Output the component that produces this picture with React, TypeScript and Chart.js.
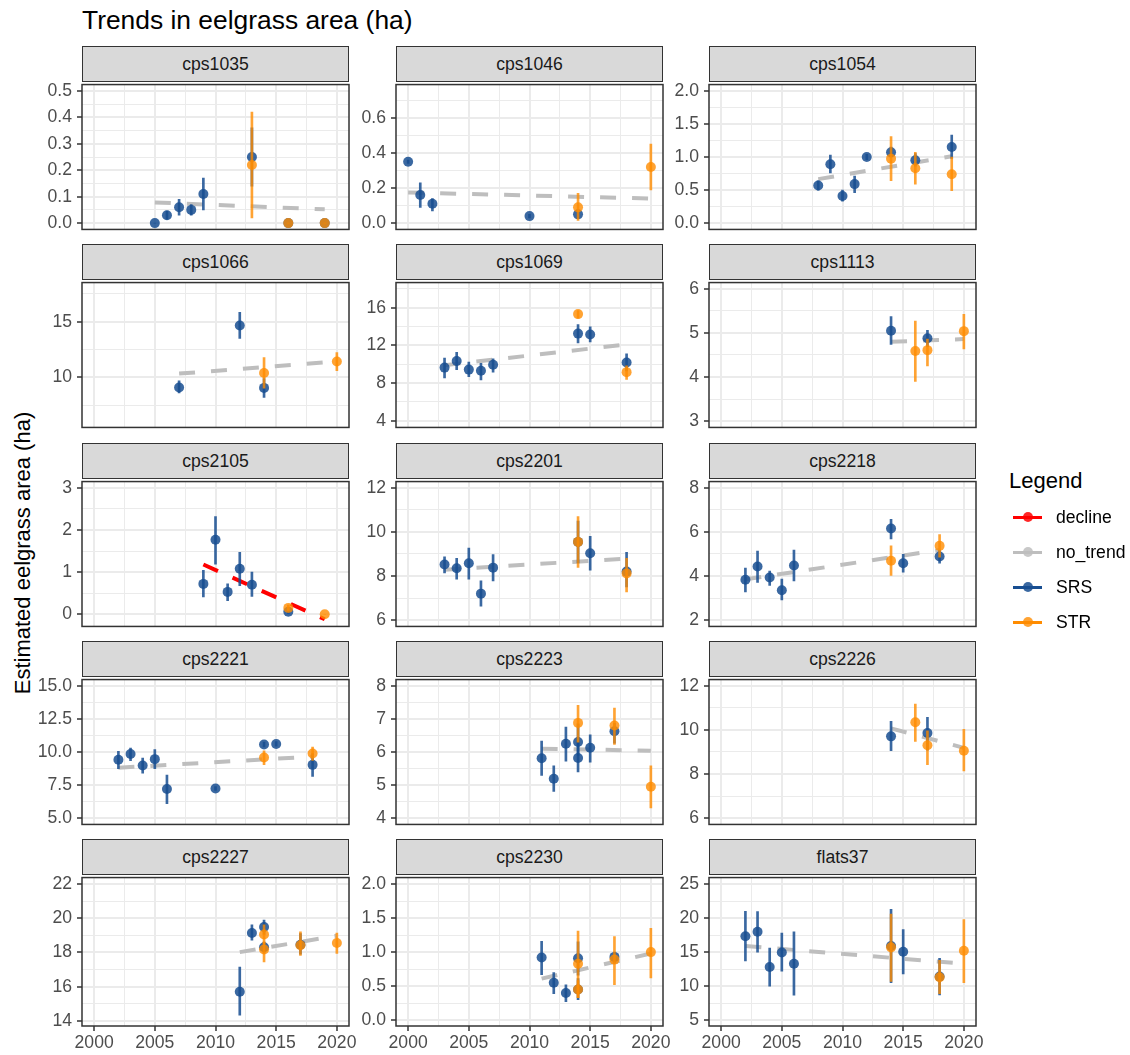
import React, { useEffect, useRef } from "react";
import { Chart, registerables } from "chart.js";

Chart.register(...registerables);

const FONT = "'Liberation Sans', Arial, Helvetica, sans-serif";
Chart.defaults.font.family = FONT;

// ---------- categories / labels ----------
const categories = [
  "cps1035", "cps1046", "cps1054",
  "cps1066", "cps1069", "cps1113",
  "cps2105", "cps2201", "cps2218",
  "cps2221", "cps2223", "cps2226",
  "cps2227", "cps2230", "flats37",
];
const xTickLabels = ["2000", "2005", "2010", "2015", "2020"];
const xLimits = [1999, 2021];
const legendLabels = ["decline", "no_trend", "SRS", "STR"];

// ---------- data: [year, estimate, lower, upper] ----------
const srs_cps1035 = [[2005, 0.0, 0.0, 0.0], [2006, 0.03, 0.015, 0.045], [2007, 0.06, 0.03, 0.09], [2008, 0.05, 0.03, 0.07], [2009, 0.11, 0.05, 0.17], [2013, 0.25, 0.14, 0.36], [2016, 0.0, 0.0, 0.0], [2019, 0.0, 0.0, 0.0]];
const str_cps1035 = [[2013, 0.22, 0.02, 0.42], [2016, 0.0, 0.0, 0.0], [2019, 0.0, 0.0, 0.0]];
const trend_cps1035 = [[2005, 0.078], [2019, 0.052]];

const srs_cps1046 = [[2000, 0.35, 0.34, 0.36], [2001, 0.16, 0.09, 0.23], [2002, 0.11, 0.07, 0.14], [2010, 0.04, 0.03, 0.05], [2014, 0.05, 0.03, 0.07]];
const str_cps1046 = [[2014, 0.09, 0.015, 0.17], [2020, 0.32, 0.19, 0.45]];
const trend_cps1046 = [[2000, 0.175], [2020, 0.14]];

const srs_cps1054 = [[2008, 0.57, 0.5, 0.64], [2009, 0.89, 0.76, 1.03], [2010, 0.41, 0.33, 0.5], [2011, 0.59, 0.46, 0.71], [2012, 1.0, 0.96, 1.04], [2014, 1.07, 1.0, 1.15], [2016, 0.95, 0.86, 1.05], [2019, 1.15, 0.98, 1.33]];
const str_cps1054 = [[2014, 0.975, 0.64, 1.31], [2016, 0.83, 0.59, 1.07], [2019, 0.74, 0.49, 1.0]];
const trend_cps1054 = [[2008, 0.665], [2019, 1.01]];

const srs_cps1066 = [[2007, 9.09, 8.6, 9.7], [2012, 14.66, 13.5, 15.83], [2014, 9.06, 8.2, 9.89]];
const str_cps1066 = [[2014, 10.4, 9.03, 11.77], [2020, 11.43, 10.6, 12.23]];
const trend_cps1066 = [[2007, 10.34], [2020, 11.43]];

const srs_cps1069 = [[2003, 9.64, 8.56, 10.65], [2004, 10.34, 9.43, 11.26], [2005, 9.43, 8.69, 10.24], [2006, 9.3, 8.34, 10.1], [2007, 9.94, 9.16, 10.58], [2014, 13.25, 12.27, 14.2], [2015, 13.15, 12.37, 13.96], [2018, 10.18, 9.3, 11.1]];
const str_cps1069 = [[2014, 15.32, 14.9, 15.7], [2018, 9.16, 8.4, 9.84]];
const trend_cps1069 = [[2003, 9.9], [2018, 12.1]];

const srs_cps1113 = [[2014, 5.05, 4.74, 5.37], [2017, 4.88, 4.69, 5.06]];
const str_cps1113 = [[2016, 4.59, 3.9, 5.27], [2017, 4.61, 4.25, 4.86], [2020, 5.04, 4.64, 5.42]];
const trend_cps1113 = [[2014, 4.8], [2020, 4.86]];

const srs_cps2105 = [[2009, 0.72, 0.41, 1.04], [2010, 1.77, 1.19, 2.32], [2011, 0.53, 0.32, 0.72], [2012, 1.08, 0.68, 1.47], [2013, 0.7, 0.42, 1.0], [2016, 0.06, 0.02, 0.1]];
const str_cps2105 = [[2016, 0.15, 0.08, 0.22], [2019, 0.0, 0.0, 0.0]];
const trend_cps2105 = [[2009, 1.18], [2019, -0.12]];

const srs_cps2201 = [[2003, 8.52, 8.14, 8.87], [2004, 8.35, 7.86, 8.8], [2005, 8.58, 7.86, 9.27], [2006, 7.2, 6.63, 7.78], [2007, 8.38, 7.78, 8.97], [2014, 9.55, 8.6, 10.5], [2015, 9.03, 8.26, 9.8], [2018, 8.2, 7.5, 9.08]];
const str_cps2201 = [[2014, 9.55, 8.39, 10.7], [2018, 8.12, 7.28, 8.8]];
const trend_cps2201 = [[2003, 8.29], [2018, 8.79]];

const srs_cps2218 = [[2002, 3.83, 3.28, 4.36], [2003, 4.43, 3.71, 5.13], [2004, 3.93, 3.57, 4.22], [2005, 3.35, 2.92, 3.86], [2006, 4.48, 3.78, 5.18], [2014, 6.16, 5.69, 6.57], [2015, 4.58, 4.17, 4.98], [2018, 4.89, 4.58, 5.18]];
const str_cps2218 = [[2014, 4.69, 4.03, 5.37], [2018, 5.37, 4.86, 5.88]];
const trend_cps2218 = [[2002, 3.85], [2018, 5.18]];

const srs_cps2221 = [[2002, 9.42, 8.75, 10.07], [2003, 9.86, 9.35, 10.31], [2004, 8.99, 8.41, 9.55], [2005, 9.47, 8.75, 10.19], [2006, 7.21, 6.11, 8.27], [2010, 7.26, 7.1, 7.4], [2014, 10.58, 10.4, 10.75], [2015, 10.62, 10.45, 10.8], [2018, 9.04, 8.17, 9.9]];
const str_cps2221 = [[2014, 9.59, 9.06, 10.1], [2018, 9.9, 9.38, 10.38]];
const trend_cps2221 = [[2002, 8.82], [2018, 9.66]];

const srs_cps2223 = [[2011, 5.81, 5.29, 6.33], [2012, 5.19, 4.81, 5.58], [2013, 6.25, 5.72, 6.75], [2014, 6.3, 5.9, 6.85], [2014, 5.82, 5.4, 6.3], [2015, 6.13, 5.69, 6.52], [2017, 6.63, 6.27, 6.87]];
const str_cps2223 = [[2014, 6.88, 6.3, 7.41], [2017, 6.8, 6.23, 7.33], [2020, 4.95, 4.31, 5.58]];
const trend_cps2223 = [[2011, 6.1], [2020, 6.04]];

const srs_cps2226 = [[2014, 9.71, 9.06, 10.39], [2017, 9.86, 9.08, 10.58]];
const str_cps2226 = [[2016, 10.35, 9.48, 11.18], [2017, 9.31, 8.43, 9.96], [2020, 9.06, 8.14, 10.03]];
const trend_cps2226 = [[2014, 10.07], [2020, 9.19]];

const srs_cps2227 = [[2012, 15.7, 14.34, 17.14], [2013, 19.14, 18.72, 19.62], [2014, 19.49, 19.05, 19.9], [2014, 18.3, 18.0, 18.6], [2017, 18.45, 17.9, 19.1]];
const str_cps2227 = [[2014, 19.05, 18.5, 19.62], [2014, 18.17, 17.45, 18.6], [2017, 18.42, 17.83, 19.2], [2020, 18.55, 17.95, 19.14]];
const trend_cps2227 = [[2012, 18.02], [2020, 18.98]];

const srs_cps2230 = [[2011, 0.92, 0.67, 1.16], [2012, 0.55, 0.39, 0.7], [2013, 0.4, 0.27, 0.52], [2014, 0.91, 0.66, 1.15], [2014, 0.45, 0.3, 0.61], [2017, 0.93, 0.85, 1.0]];
const str_cps2230 = [[2014, 0.83, 0.33, 1.31], [2014, 0.45, 0.33, 0.58], [2017, 0.89, 0.52, 1.23], [2020, 1.0, 0.62, 1.35]];
const trend_cps2230 = [[2011, 0.61], [2020, 0.98]];

const srs_flats37 = [[2002, 17.33, 13.7, 21.0], [2003, 18.0, 15.0, 20.95], [2004, 12.8, 10.0, 15.6], [2005, 14.95, 12.2, 17.8], [2006, 13.3, 8.66, 18.0], [2014, 15.9, 10.5, 21.3], [2015, 15.05, 11.8, 18.3], [2018, 11.4, 8.7, 14.1]];
const str_flats37 = [[2014, 15.7, 10.7, 20.6], [2018, 11.3, 8.9, 13.8], [2020, 15.2, 10.5, 19.8]];
const trend_flats37 = [[2002, 15.9], [2020, 13.3]];

// trend class per facet
const trendClass = ["no_trend", "no_trend", "no_trend", "no_trend", "no_trend", "no_trend", "decline", "no_trend", "no_trend", "no_trend", "no_trend", "no_trend", "no_trend", "no_trend", "no_trend"];

// y tick labels and y limits per facet
const yTicks_cps1035 = ["0.0", "0.1", "0.2", "0.3", "0.4", "0.5"];
const yTicks_cps1046 = ["0.0", "0.2", "0.4", "0.6"];
const yTicks_cps1054 = ["0.0", "0.5", "1.0", "1.5", "2.0"];
const yTicks_cps1066 = ["10", "15"];
const yTicks_cps1069 = ["4", "8", "12", "16"];
const yTicks_cps1113 = ["3", "4", "5", "6"];
const yTicks_cps2105 = ["0", "1", "2", "3"];
const yTicks_cps2201 = ["6", "8", "10", "12"];
const yTicks_cps2218 = ["2", "4", "6", "8"];
const yTicks_cps2221 = ["5.0", "7.5", "10.0", "12.5", "15.0"];
const yTicks_cps2223 = ["4", "5", "6", "7", "8"];
const yTicks_cps2226 = ["6", "8", "10", "12"];
const yTicks_cps2227 = ["14", "16", "18", "20", "22"];
const yTicks_cps2230 = ["0.0", "0.5", "1.0", "1.5", "2.0"];
const yTicks_flats37 = ["5", "10", "15", "20", "25"];

const yLim_cps1035 = [-0.024, 0.524];
const yLim_cps1046 = [-0.036, 0.79];
const yLim_cps1054 = [-0.096, 2.096];
const yLim_cps1066 = [5.51, 18.51];
const yLim_cps1069 = [3.29, 18.67];
const yLim_cps1113 = [2.86, 6.14];
const yLim_cps2105 = [-0.29, 3.15];
const yLim_cps2201 = [5.71, 12.29];
const yLim_cps2218 = [1.71, 8.29];
const yLim_cps2221 = [4.54, 15.48];
const yLim_cps2223 = [3.81, 8.19];
const yLim_cps2226 = [5.71, 12.29];
const yLim_cps2227 = [13.7, 22.38];
const yLim_cps2230 = [-0.086, 2.096];
const yLim_flats37 = [4.14, 25.96];

// table built from the arrays above
const srsList = [srs_cps1035, srs_cps1046, srs_cps1054, srs_cps1066, srs_cps1069, srs_cps1113, srs_cps2105, srs_cps2201, srs_cps2218, srs_cps2221, srs_cps2223, srs_cps2226, srs_cps2227, srs_cps2230, srs_flats37];
const strList = [str_cps1035, str_cps1046, str_cps1054, str_cps1066, str_cps1069, str_cps1113, str_cps2105, str_cps2201, str_cps2218, str_cps2221, str_cps2223, str_cps2226, str_cps2227, str_cps2230, str_flats37];
const trendList = [trend_cps1035, trend_cps1046, trend_cps1054, trend_cps1066, trend_cps1069, trend_cps1113, trend_cps2105, trend_cps2201, trend_cps2218, trend_cps2221, trend_cps2223, trend_cps2226, trend_cps2227, trend_cps2230, trend_flats37];
const yTickList = [yTicks_cps1035, yTicks_cps1046, yTicks_cps1054, yTicks_cps1066, yTicks_cps1069, yTicks_cps1113, yTicks_cps2105, yTicks_cps2201, yTicks_cps2218, yTicks_cps2221, yTicks_cps2223, yTicks_cps2226, yTicks_cps2227, yTicks_cps2230, yTicks_flats37];
const yLimList = [yLim_cps1035, yLim_cps1046, yLim_cps1054, yLim_cps1066, yLim_cps1069, yLim_cps1113, yLim_cps2105, yLim_cps2201, yLim_cps2218, yLim_cps2221, yLim_cps2223, yLim_cps2226, yLim_cps2227, yLim_cps2230, yLim_flats37];

// ---------- styling / layout ----------
const SRS_COL = "rgba(24,78,145,0.85)";
const STR_COL = "rgba(255,140,0,0.8)";
const SRS_LINE = "rgb(24,78,145)";
const STR_LINE = "rgb(255,140,0)";
const TREND_COL: Record<string, string> = { no_trend: "#BEBEBE", decline: "#FF0000" };
const TREND_PT: Record<string, string> = { no_trend: "rgba(190,190,190,0.85)", decline: "rgba(255,0,0,0.85)" };
const GRID = "#EBEBEB";
const DARK = "#333333";

const COL_LEFT = [82, 396, 709];
const ROW_TOP = [81, 279, 478, 676, 874];
const PW = 267;
const PH = 152;
const STRIP_H = 35;
const AXW = 50;
const PAD = 12;
const XAH = 30;
const FS = 17.6;

type Tk = { value: number; lab: string; minor: boolean };

function makeTicks(labels: string[], min: number, max: number): Tk[] {
  const majors = labels.map((l) => parseFloat(l));
  const step = majors.length > 1 ? majors[1] - majors[0] : 1;
  const out: Tk[] = majors.map((m, i) => ({ value: m, lab: labels[i], minor: false }));
  const cand = [majors[0] - step / 2, ...majors.map((m) => m + step / 2)];
  cand.forEach((v) => {
    if (v > min && v < max) out.push({ value: v, lab: "", minor: true });
  });
  return out.sort((a, b) => a.value - b.value);
}

const borderPlugin = {
  id: "panelBorder",
  afterDraw(chart: any) {
    const { ctx, chartArea: a } = chart;
    ctx.save();
    ctx.strokeStyle = DARK;
    ctx.lineWidth = 1.5;
    ctx.strokeRect(a.left, a.top, a.right - a.left, a.bottom - a.top);
    ctx.restore();
  },
};

function Panel({ idx }: { idx: number }) {
  const ref = useRef<HTMLCanvasElement | null>(null);
  const row = Math.floor(idx / 3);
  const col = idx % 3;
  const isBottom = row === 4;
  const left = COL_LEFT[col] - AXW;
  const top = ROW_TOP[row] - PAD;
  const w = AXW + PW + PAD;
  const h = PAD + PH + (isBottom ? XAH : PAD);

  useEffect(() => {
    const srs = srsList[idx];
    const str = strList[idx];
    const trend = trendList[idx];
    const kind = trendClass[idx];
    const [ymin, ymax] = yLimList[idx];
    const yT = makeTicks(yTickList[idx], ymin, ymax);
    const xT = makeTicks(xTickLabels, xLimits[0], xLimits[1]);

    const errDs = (rows: number[][], color: string, order: number) => ({
      type: "bar",
      data: rows.map((r) => ({ x: r[0], y: [r[2], r[3]] })),
      backgroundColor: color,
      borderWidth: 0,
      barThickness: 2,
      grouped: false,
      order,
    });
    const ptDs = (rows: number[][], color: string, order: number) => ({
      type: "scatter",
      data: rows.map((r) => ({ x: r[0], y: r[1] })),
      backgroundColor: color,
      borderWidth: 0,
      pointRadius: 5,
      pointHoverRadius: 5,
      order,
    });

    const isMinor = (c: any) => !!(c && c.tick && c.tick.minor);

    const chart = new Chart(ref.current as HTMLCanvasElement, {
      type: "scatter",
      data: {
        datasets: [
          {
            type: "line",
            data: trend.map((p) => ({ x: p[0], y: p[1] })),
            borderColor: TREND_COL[kind],
            borderWidth: 4,
            borderDash: [16, 16],
            borderCapStyle: "butt",
            pointRadius: 0,
            fill: false,
            tension: 0,
            order: 5,
          },
          errDs(srs, SRS_COL, 4),
          ptDs(srs, SRS_COL, 3),
          errDs(str, STR_COL, 2),
          ptDs(str, STR_COL, 1),
        ] as any,
      },
      options: {
        animation: false,
        responsive: false,
        maintainAspectRatio: false,
        events: [],
        layout: { padding: { left: 0, top: PAD, right: PAD, bottom: isBottom ? 0 : PAD } },
        plugins: { legend: { display: false }, tooltip: { enabled: false }, title: { display: false } },
        scales: {
          x: {
            type: "linear",
            min: xLimits[0],
            max: xLimits[1],
            offset: false,
            border: { display: false },
            grid: {
              offset: false,
              color: GRID,
              lineWidth: (c: any) => (isMinor(c) ? 1 : 2),
              drawTicks: isBottom,
              tickLength: 5,
              tickColor: (c: any) => (isMinor(c) ? "rgba(0,0,0,0)" : DARK),
              tickWidth: 1.5,
            },
            ticks: {
              display: isBottom,
              autoSkip: false,
              maxRotation: 0,
              minRotation: 0,
              padding: 2,
              color: "#4D4D4D",
              font: { size: FS, family: FONT },
              callback: (_v: any, i: number, ticks: any[]) => (ticks[i] as any).lab,
            },
            afterBuildTicks: (s: any) => {
              s.ticks = xT.map((t) => ({ ...t }));
            },
            afterFit: (s: any) => {
              s.height = isBottom ? XAH : 0;
            },
          },
          y: {
            type: "linear",
            min: ymin,
            max: ymax,
            beginAtZero: false,
            border: { display: false },
            grid: {
              color: GRID,
              lineWidth: (c: any) => (isMinor(c) ? 1 : 2),
              drawTicks: true,
              tickLength: 5,
              tickColor: (c: any) => (isMinor(c) ? "rgba(0,0,0,0)" : DARK),
              tickWidth: 1.5,
            },
            ticks: {
              autoSkip: false,
              padding: 5,
              color: "#4D4D4D",
              font: { size: FS, family: FONT },
              callback: (_v: any, i: number, ticks: any[]) => (ticks[i] as any).lab,
            },
            afterBuildTicks: (s: any) => {
              s.ticks = yT.map((t) => ({ ...t }));
            },
            afterFit: (s: any) => {
              s.width = AXW;
            },
          },
        },
      } as any,
      plugins: [borderPlugin],
    } as any);
    return () => chart.destroy();
  }, [idx]);

  return (
    <canvas
      ref={ref}
      width={w}
      height={h}
      style={{ position: "absolute", left, top, width: w, height: h }}
    />
  );
}

function Strip({ idx }: { idx: number }) {
  const row = Math.floor(idx / 3);
  const col = idx % 3;
  return (
    <div
      style={{
        position: "absolute",
        left: COL_LEFT[col],
        top: ROW_TOP[row] - STRIP_H,
        width: PW,
        height: STRIP_H + 1,
        boxSizing: "border-box",
        background: "#D9D9D9",
        border: `1.5px solid ${DARK}`,
        display: "flex",
        alignItems: "center",
        justifyContent: "center",
        fontFamily: FONT,
        fontSize: FS,
        color: "#1A1A1A",
      }}
    >
      {categories[idx]}
    </div>
  );
}

const legendLine = [TREND_COL.decline, TREND_COL.no_trend, SRS_LINE, STR_LINE];
const legendPt = [TREND_PT.decline, TREND_PT.no_trend, SRS_COL, STR_COL];

function Legend() {
  const firstY = 517.3;
  const gap = 35;
  return (
    <>
      <div
        style={{
          position: "absolute",
          left: 1009,
          top: 470,
          fontFamily: FONT,
          fontSize: 22,
          lineHeight: "22px",
          color: "#000",
          whiteSpace: "nowrap",
        }}
      >
        Legend
      </div>
      {legendLabels.map((lab, i) => {
        const cy = firstY + i * gap;
        return (
          <React.Fragment key={lab}>
            <div
              style={{
                position: "absolute",
                left: 1013,
                top: cy - 1.5,
                width: 29,
                height: 3,
                background: legendLine[i],
              }}
            />
            <div
              style={{
                position: "absolute",
                left: 1022.7,
                top: cy - 5,
                width: 10,
                height: 10,
                borderRadius: "50%",
                background: legendPt[i],
              }}
            />
            <div
              style={{
                position: "absolute",
                left: 1056,
                top: cy - 17.5,
                height: 35,
                lineHeight: "35px",
                fontFamily: FONT,
                fontSize: FS,
                color: "#000",
                whiteSpace: "nowrap",
              }}
            >
              {lab}
            </div>
          </React.Fragment>
        );
      })}
    </>
  );
}

export default function App() {
  return (
    <div
      style={{
        position: "absolute",
        left: 0,
        top: 0,
        width: 1130,
        height: 1055,
        background: "#FFFFFF",
        overflow: "hidden",
      }}
    >
      <div
        style={{
          position: "absolute",
          left: 82,
          top: 7,
          fontFamily: FONT,
          fontSize: 26.4,
          lineHeight: "26.4px",
          color: "#000",
          whiteSpace: "nowrap",
        }}
      >
        Trends in eelgrass area (ha)
      </div>
      <div
        style={{
          position: "absolute",
          left: 23,
          top: 553,
          transform: "translate(-50%, -50%) rotate(-90deg)",
          fontFamily: FONT,
          fontSize: 22,
          lineHeight: "22px",
          color: "#000",
          whiteSpace: "nowrap",
        }}
      >
        Estimated eelgrass area (ha)
      </div>
      {categories.map((_c, i) => (
        <Strip key={"s" + i} idx={i} />
      ))}
      {categories.map((_c, i) => (
        <Panel key={"p" + i} idx={i} />
      ))}
      <Legend />
    </div>
  );
}
